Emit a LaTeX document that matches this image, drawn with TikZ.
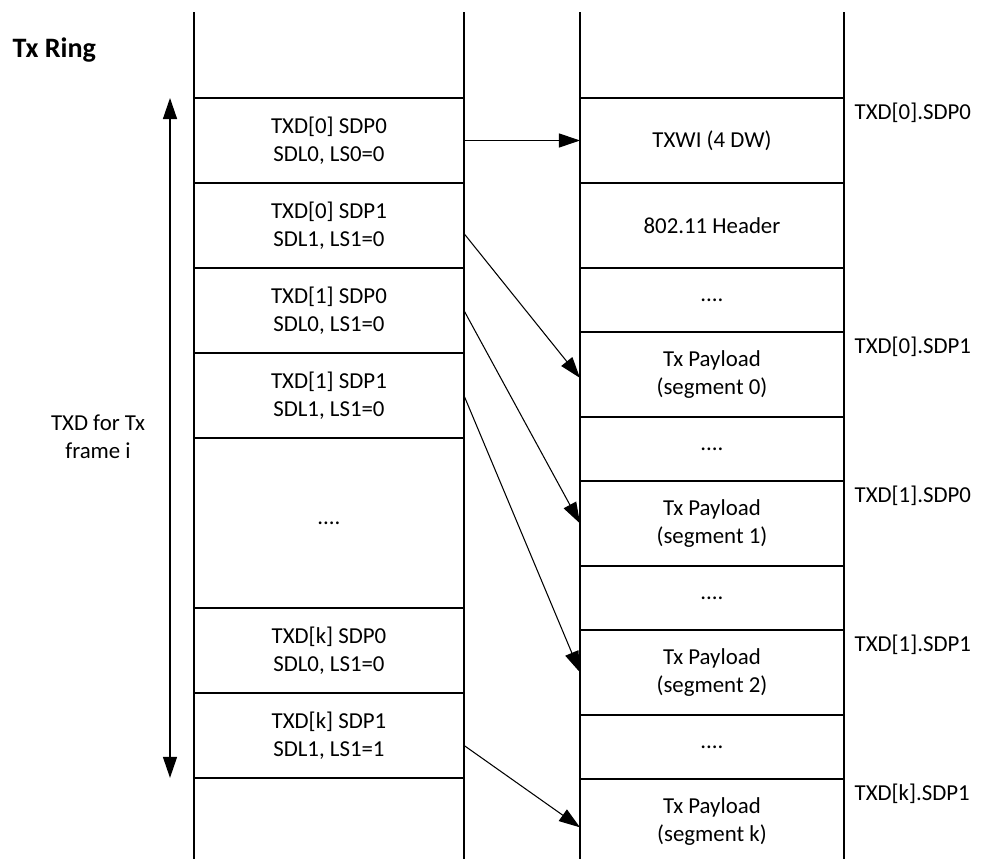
\documentclass[tikz,border=0pt]{standalone}
\usepackage{fontspec}
\setmainfont{Carlito}
\usetikzlibrary{positioning,arrows.meta}

\begin{document}
\begin{tikzpicture}[x=0.02cm, y=-0.02cm, line width=0.8pt,
    slot/.style={draw, inner sep=0pt, outer sep=0pt, align=center,
        minimum width=5.4cm, minimum height=1.7cm, font=\fontsize{13}{16}\selectfont},
    bigslot/.style={slot, minimum height=3.4cm},
    buf/.style={slot, minimum width=5.28cm},
    gapbuf/.style={buf, minimum height=1.28cm},
    ptr/.style={-{Triangle[length=12pt,width=8pt]}, line width=0.6pt},
    tag/.style={anchor=west, inner sep=0pt, font=\fontsize{13}{16}\selectfont}]
    \clip (0,0) rectangle (998,859);

    % 1. Titles
    \node[anchor=west, inner sep=0pt, font=\bfseries\fontsize{16}{19}\selectfont] (title) at (12,50) {Tx Ring};
    \node[align=center, font=\fontsize{13}{16}\selectfont] (frame) at (98,437) {TXD for Tx\\frame i};

    % 2. Tx ring column (left)
    \draw (194,12) -- (194,859);
    \draw (464,12) -- (464,859);
    \node[slot, anchor=north west] (r0) at (194,98) {TXD[0] SDP0\\SDL0, LS0=0};
    \node[slot, below=0pt of r0] (r1) {TXD[0] SDP1\\SDL1, LS1=0};
    \node[slot, below=0pt of r1] (r2) {TXD[1] SDP0\\SDL0, LS1=0};
    \node[slot, below=0pt of r2] (r3) {TXD[1] SDP1\\SDL1, LS1=0};
    \node[bigslot, below=0pt of r3] (r4) {....};
    \node[slot, below=0pt of r4] (r5) {TXD[k] SDP0\\SDL0, LS1=0};
    \node[slot, below=0pt of r5] (r6) {TXD[k] SDP1\\SDL1, LS1=1};

    % 3. Frame span arrow
    \draw[{Triangle[length=12pt,width=8pt]}-{Triangle[length=12pt,width=8pt]}]
        ([xshift=-0.48cm]r0.north west) -- ([xshift=-0.48cm]r6.south west);

    % 4. Buffer column (right)
    \draw (580,12) -- (580,859);
    \draw (844,12) -- (844,859);
    \node[buf, anchor=north west] (b0) at (580,98) {TXWI (4 DW)};
    \node[buf, below=0pt of b0] (b1) {802.11 Header};
    \node[gapbuf, below=0pt of b1] (b2) {....};
    \node[buf, below=0pt of b2] (b3) {Tx Payload\\(segment 0)};
    \node[gapbuf, below=0pt of b3] (b4) {....};
    \node[buf, below=0pt of b4] (b5) {Tx Payload\\(segment 1)};
    \node[gapbuf, below=0pt of b5] (b6) {....};
    \node[buf, below=0pt of b6] (b7) {Tx Payload\\(segment 2)};
    \node[gapbuf, below=0pt of b7] (b8) {....};
    \node[buf, below=0pt of b8] (b9) {Tx Payload\\(segment k)};

    % 5. Pointer labels
    \foreach \b/\t in {b0/TXD[0].SDP0, b3/TXD[0].SDP1, b5/TXD[1].SDP0, b7/TXD[1].SDP1, b9/TXD[k].SDP1}{
        \node[tag] (t\b) at ([xshift=0.2cm, yshift=-0.3cm]\b.north east) {\t};
    }

    % 6. Pointers from descriptors to buffers
    \draw[ptr] (r0.east) -- (b0.west);
    \draw[ptr] ([yshift=-0.16cm]r1.east) -- ([yshift=-0.07cm]b3.west);
    \draw[ptr] (r2.east) -- (b5.west);
    \draw[ptr] (r3.east) -- (b7.west);
    \draw[ptr] ([yshift=-0.2cm]r6.east) -- ([yshift=-0.12cm]b9.west);
\end{tikzpicture}
\end{document}
